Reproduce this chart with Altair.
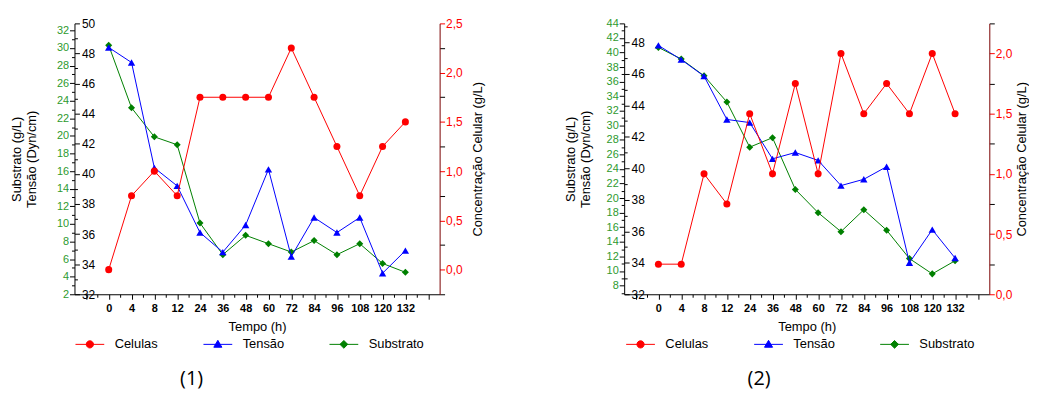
import json
import altair as alt
import pandas as pd

# ---------------- data ----------------
times = ["0", "4", "8", "12", "24", "36", "48", "60", "72", "84", "96", "108", "120", "132"]
series = ["Celulas", "Tensão", "Substrato"]
colors = ["#ff0000", "#0000ff", "#008000"]

# panel (1)
cel1 = [0.0, 0.75, 1.0, 0.75, 1.75, 1.75, 1.75, 1.75, 2.25, 1.75, 1.25, 0.75, 1.25, 1.5]
ten1 = [48.4, 47.4, 40.4, 39.2, 36.1, 34.8, 36.6, 40.3, 34.5, 37.1, 36.1, 37.1, 33.4, 34.9]
sub1 = [30.3, 23.2, 19.9, 19.0, 10.1, 6.5, 8.7, 7.75, 6.8, 8.1, 6.5, 7.75, 5.5, 4.5]

# panel (2)
cel2 = [0.25, 0.25, 1.0, 0.75, 1.5, 1.0, 1.75, 1.0, 2.0, 1.5, 1.75, 1.5, 2.0, 1.5]
ten2 = [47.8, 46.9, 45.85, 43.1, 42.9, 40.6, 41.0, 40.5, 38.9, 39.3, 40.1, 34.0, 36.1, 34.3]
sub2 = [40.7, 39.1, 36.8, 33.2, 27.0, 28.3, 21.2, 18.0, 15.4, 18.4, 15.6, 11.7, 9.6, 11.4]

# ---------------- style ----------------
W, H = 368, 273
FONT = "Liberation Sans"
GREEN_TXT = "#2e9a2e"
DARK_RED = "#7a0000"

label_arr = json.dumps(times)
n = len(times)
x_label_expr = (f"(datum.value >= 0 && datum.value <= {n - 1} && datum.value == floor(datum.value))"
                f" ? {label_arr}[datum.value] : ''")

leg_paths = {
    "Celulas": "M-1,0H1M0.25,0A0.25,0.25,0,1,1,-0.25,0A0.25,0.25,0,1,1,0.25,0Z",
    "Tensão": "M-1,0H1M0,-0.28L0.28,0.2L-0.28,0.2Z",
    "Substrato": "M-1,0H1M0,-0.27L0.27,0L0,0.27L-0.27,0Z",
}
shape_expr = (f"datum.value == '{series[0]}' ? '{leg_paths[series[0]]}' : "
              f"(datum.value == '{series[1]}' ? '{leg_paths[series[1]]}' : '{leg_paths[series[2]]}')")
color_expr = (f"datum.value == '{series[0]}' ? '{colors[0]}' : "
              f"(datum.value == '{series[1]}' ? '{colors[1]}' : '{colors[2]}')")


def make_legend(lx, ly):
    return alt.Legend(
        orient="none", legendX=lx, legendY=ly, direction="horizontal", columns=3,
        gridAlign="none",
        title=None, symbolSize=841, symbolStrokeWidth=1, labelOffset=10,
        columnPadding=43, labelFont=FONT, labelFontSize=13, labelColor="black",
        symbolType=alt.ExprRef(expr=shape_expr),
        symbolFillColor=alt.ExprRef(expr=color_expr),
        symbolStrokeColor=alt.ExprRef(expr=color_expr),
    )


EVEN_EXPR = "datum.value == floor(datum.value) && datum.value % 2 == 0 ? format(datum.value, 'd') : ''"


def panel(cel, ten, sub, sub_dom, ten_dom, cel_dom, caption, cap_dx, lx, ly, lt_pad, rt_pad):
    df = pd.DataFrame({"idx": list(range(n)), "t": times, "cel": cel, "ten": ten, "sub": sub})

    x_enc = alt.X(
        "idx:Q",
        scale=alt.Scale(domain=[-1.5, n + 0.5], nice=False, zero=False),
        axis=alt.Axis(
            values=[v / 2 for v in range(-2, 2 * n + 1)],
            labelExpr=x_label_expr, labelOverlap=False,
            tickSize={"condition": {"test": "datum.value == floor(datum.value)", "value": 5}, "value": 3},
            labelFontWeight="bold", labelFontSize=11, labelPadding=3,
            title="Tempo (h)", titleFontSize=13, titleFontWeight="normal", titlePadding=8,
            domainColor="black", tickColor="black", labelColor="black", grid=False,
        ),
    )
    legend = make_legend(lx, ly)

    def layer(field, name, color, shape, size, scale, axis):
        base = alt.Chart(df).encode(x=x_enc, y=alt.Y(f"{field}:Q", scale=scale, axis=axis))
        line = base.mark_line(strokeWidth=1).transform_calculate(
            serie=f"'{name}'"
        ).encode(
            color=alt.Color("serie:N", scale=alt.Scale(domain=series, range=colors), legend=legend)
        )
        pts = base.mark_point(shape=shape, filled=True, size=size, color=color, opacity=1)
        return alt.layer(line, pts)

    g_lo = int(sub_dom[0]) + (1 if sub_dom[0] != int(sub_dom[0]) else 0)
    g_vals = list(range(g_lo, int(sub_dom[1]) + 1))
    g_axis = alt.Axis(
        orient="left", values=g_vals, labelExpr=EVEN_EXPR, labelOverlap=False,
        tickSize={"condition": {"test": "datum.value % 2 == 0", "value": 5}, "value": 3},
        labelColor=GREEN_TXT, labelFontSize=11, labelPadding=1, tickColor="black",
        domainColor="black", grid=False,
        title=["Substrato (g/L)", "Tensão (Dyn/cm)"], titleFontSize=13, titleFontWeight="normal",
        titleLineHeight=15, titlePadding=lt_pad, titleColor="black",
    )
    t_vals = list(range(int(ten_dom[0]), int(ten_dom[1]) + 1))
    t_axis = alt.Axis(
        orient="right", offset=-W, values=t_vals, labelExpr=EVEN_EXPR, labelOverlap=False,
        tickSize={"condition": {"test": "datum.value % 2 == 0", "value": 5}, "value": 3},
        labelColor="black", labelFontSize=12, labelPadding=2, tickColor="black",
        domain=False, grid=False, title=None,
    )
    c_vals = []
    v = cel_dom[0]
    while v <= cel_dom[1] + 1e-9:
        c_vals.append(round(v, 2))
        v += 0.25
    c_axis = alt.Axis(
        orient="right", values=c_vals, labelOverlap=False,
        labelExpr="datum.value >= 0 && datum.value * 2 == floor(datum.value * 2) ? replace(format(datum.value, '.1f'), '.', ',') : ''",
        tickSize=5,
        tickColor={"condition": {"test": "datum.value * 2 == floor(datum.value * 2)", "value": "#ff0000"}, "value": "black"},
        labelColor="#ff0000", labelFontSize=12, labelPadding=1, domainColor=DARK_RED, grid=False,
        title="Concentração Celular (g/L)", titleFontSize=13, titleFontWeight="normal",
        titleColor="black", titlePadding=rt_pad, titleAngle=270, titleBaseline="top",
    )

    g = layer("sub", "Substrato", colors[2], "diamond", 50,
              alt.Scale(domain=sub_dom, nice=False, zero=False), g_axis)
    b = layer("ten", "Tensão", colors[1], "triangle-up", 55,
              alt.Scale(domain=ten_dom, nice=False, zero=False), t_axis)
    r = layer("cel", "Celulas", colors[0], "circle", 50,
              alt.Scale(domain=cel_dom, nice=False, zero=False), c_axis)

    return alt.layer(g, b, r).resolve_scale(y="independent").properties(
        width=W, height=H,
        title=alt.TitleParams(caption, orient="bottom", anchor="middle", frame="group",
                              fontSize=20, font="Open Sans", fontWeight="normal",
                              color="black", dx=cap_dx, offset=18),
    )


p1 = panel(cel1, ten1, sub1, [2, 32.8], [32, 50], [-0.25, 2.5], "(1)", -66, 0.5, 308.5, 18, 10)
p2 = panel(cel2, ten2, sub2, [6.8, 44], [32, 49.2], [0, 2.25], "(2)", -48, 1.5, 308.5, 14, 4)

chart = alt.hconcat(p1, p2, spacing=79).resolve_scale(color="independent").resolve_legend(
    color="independent"
).properties(
    padding={"left": 2, "top": 8, "right": 0, "bottom": 0}
).configure(font=FONT).configure_view(stroke=None).configure_axis(
    labelFont=FONT, titleFont=FONT
)

chart.save("out.html", embed_options={"renderer": "svg", "actions": False})
